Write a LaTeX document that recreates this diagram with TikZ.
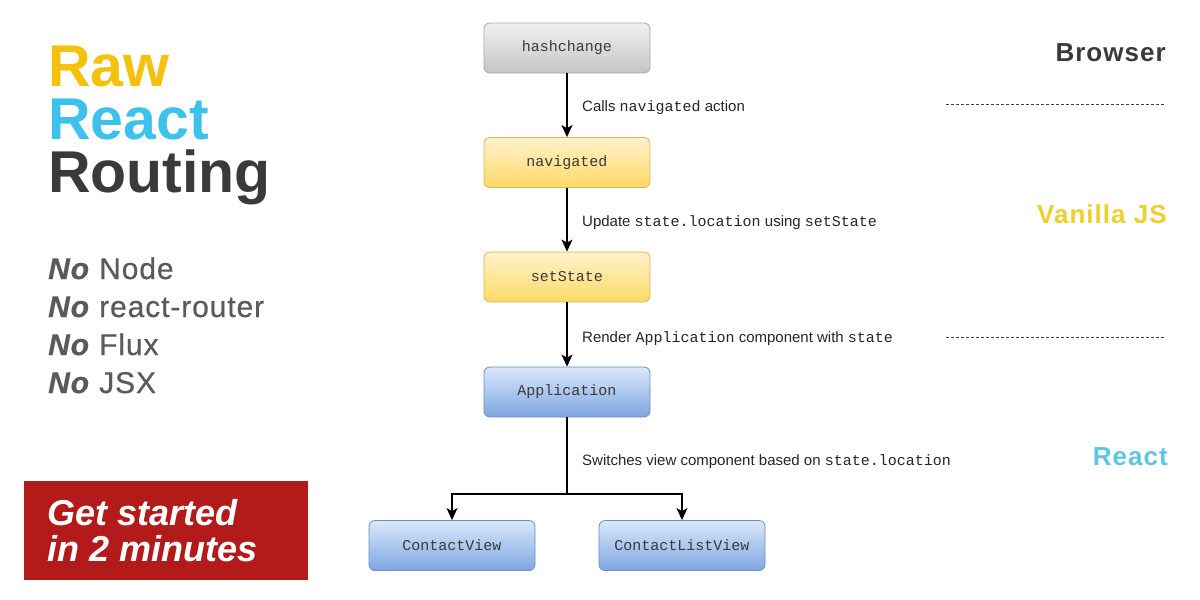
\documentclass[tikz,border=0pt]{standalone}
\usepackage{fontspec}
\setmainfont{Liberation Sans}
\setmonofont{Liberation Mono}
\newfontfamily\medsans[LetterSpace=3, FakeBold=0.5]{Liberation Sans}
\newfontfamily\layerfont[LetterSpace=4]{Liberation Sans}
\usetikzlibrary{arrows.meta,positioning}
\definecolor{rawyellow}{HTML}{F4C20D}
\definecolor{reactblue}{HTML}{3EC1EC}
\definecolor{darktxt}{HTML}{3A3A3A}
\definecolor{graytxt}{HTML}{5A5A5A}
\definecolor{redbox}{HTML}{B31B1B}
\definecolor{vanilla}{HTML}{EFCF2C}
\definecolor{reactlbl}{HTML}{5CC7E2}
\definecolor{ylwdraw}{HTML}{D6B656}
\definecolor{ylwtop}{HTML}{FFF2CC}
\definecolor{ylwbot}{HTML}{FFD966}
\definecolor{bludraw}{HTML}{6C8EBF}
\definecolor{blutop}{HTML}{DAE8FC}
\definecolor{blubot}{HTML}{7EA6E0}
\tikzset{
  box/.style={rounded corners=6pt, minimum width=166pt, minimum height=50pt, line width=0.8pt,
     font=\fontsize{15}{15}\selectfont\ttfamily, text=darktxt},
  graybox/.style={box, draw=gray!70, top color=gray!12, bottom color=gray!45},
  yellowbox/.style={box, draw=ylwdraw, top color=ylwtop, bottom color=ylwbot},
  bluebox/.style={box, draw=bludraw, top color=blutop, bottom color=blubot},
  conn/.style={line width=1.4pt, -{Stealth[length=12pt,width=11pt,inset=3pt]}},
  lbl/.style={anchor=base west, inner sep=0, font=\fontsize{15}{15}\selectfont, text=black!85},
  sep/.style={dash pattern=on 3pt off 2pt, line width=0.7pt, draw=black!75},
  ttl/.style={anchor=base west, inner sep=0, font=\fontsize{59}{59}\selectfont\bfseries},
  nol/.style={anchor=base west, inner sep=0, text=graytxt, font=\fontsize{30}{30}\selectfont\medsans},
  layer/.style={anchor=base east, inner sep=0, font=\fontsize{26}{26}\selectfont\layerfont\bfseries},
}
\begin{document}
\begin{tikzpicture}[x=1pt,y=-1pt]
\useasboundingbox (0,0) rectangle (1200,600);
\fill[white] (0,0) rectangle (1200,600);

% title
\node[ttl, text=rawyellow] (t1) at (48,86) {Raw};
\node[ttl, text=reactblue] (t2) at (48,139) {React};
\node[ttl, text=darktxt] (t3) at (48,192) {Routing};

% no list
\node[nol] (n1) at (48,279) {\textbf{\textit{No}} Node};
\node[nol] (n2) at (48,317) {\textbf{\textit{No}} react-router};
\node[nol] (n3) at (48,355) {\textbf{\textit{No}} Flux};
\node[nol] (n4) at (48,393) {\textbf{\textit{No}} JSX};

% red box
\node[fill=redbox, minimum width=284pt, minimum height=99pt, inner sep=0, anchor=north west] (red) at (24,481) {};
\node[anchor=base west, inner sep=0, text=white, font=\fontsize{36}{36}\selectfont\bfseries\itshape] (g1) at (47,525) {Get started};
\node[anchor=base west, inner sep=0, text=white, font=\fontsize{36}{36}\selectfont\bfseries\itshape] (g2) at (47,561) {in 2 minutes};

% boxes
\node[graybox] (hash) at (567,48) {hashchange};
\node[yellowbox] (nav) at (567,162.5) {navigated};
\node[yellowbox] (set) at (567,277) {setState};
\node[bluebox] (app) at (567,392) {Application};
\node[bluebox] (cv) at (452,545.5) {ContactView};
\node[bluebox] (clv) at (682,545.5) {ContactListView};

% connectors
\draw[conn] (hash) -- (nav);
\draw[conn] (nav) -- (set);
\draw[conn] (set) -- (app);
\coordinate (br) at (567,494);
\draw[line width=1.4pt] (app.south) -- (br);
\draw[conn] (br) -| (cv.north);
\draw[conn] (br) -| (clv.north);

% labels
\node[lbl] (l1) at (582,111) {Calls \texttt{navigated} action};
\node[lbl] (l2) at (582,226) {Update \texttt{state.location} using \texttt{setState}};
\node[lbl] (l3) at (582,342) {Render \texttt{Application} component with \texttt{state}};
\node[lbl] (l4) at (582,465) {Switches view component based on \texttt{state.location}};

% layers
\node[layer, text=darktxt] (b) at (1166,61) {Browser};
\node[layer, text=vanilla] (v) at (1167,223) {Vanilla JS};
\node[layer, text=reactlbl] (r) at (1168,465) {React};
\coordinate (d1a) at (946,104); \coordinate (d1b) at (1165,104);
\coordinate (d2a) at (946,337); \coordinate (d2b) at (1165,337);
\draw[sep] (d1a) -- (d1b);
\draw[sep] (d2a) -- (d2b);
\end{tikzpicture}
\end{document}
